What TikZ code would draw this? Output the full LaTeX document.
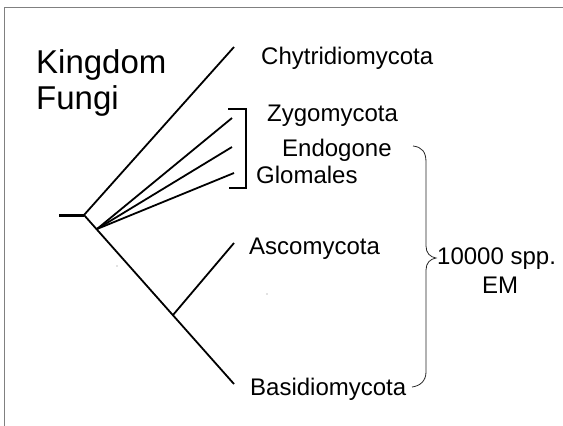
\documentclass[tikz,border=0pt]{standalone}
\usepackage{fontspec}
\setmainfont{Liberation Sans}
\begin{document}
\begin{tikzpicture}[x=1pt,y=-1pt,
  branch/.style={line width=1.8pt,line cap=butt},
  stub/.style={line width=3pt},
  bracketline/.style={line width=1.4pt},
  braceline/.style={line width=0.8pt,draw=black!85},
  taxon/.style={anchor=base west,inner sep=0pt,font=\fontsize{24}{28}\selectfont},
  titletext/.style={anchor=base west,inner sep=0pt,font=\fontsize{33}{38}\selectfont}]
\useasboundingbox (0,0) rectangle (563,426);
% frame
\draw[gray,line width=1pt] (563,7) -- (4,7) -- (4,426);
% title
\node[titletext] (kingdom) at (36,73) {Kingdom};
\node[titletext] (fungi) at (36,109) {Fungi};
% tree points
\coordinate (s) at (59,215);
\coordinate (r) at (84,215);
\coordinate (chy) at (234,47);
\coordinate (z) at (97,229);
\coordinate (z1) at (232,118);
\coordinate (z2) at (232,147);
\coordinate (z3) at (234,173);
\coordinate (a) at (173,315);
\coordinate (asc) at (234,243);
\coordinate (bas) at (234,384);
% tree
\draw[stub] (s) -- (r);
\draw[branch] (r) -- (chy);
\draw[branch] (r) -- (bas);
\draw[branch] (z) -- (z1);
\draw[branch] (z) -- (z2);
\draw[branch] (z) -- (z3);
\draw[branch] (a) -- (asc);
% square bracket
\coordinate (b1) at (228,109);
\coordinate (b2) at (246,109);
\coordinate (b3) at (246,188);
\coordinate (b4) at (229,188);
\draw[bracketline] (b1) -- (b2) -- (b3) -- (b4);
% labels
\node[taxon] (chyL) at (261,64) {Chytridiomycota};
\node[taxon] (zygL) at (267,121) {Zygomycota};
\node[taxon] (endL) at (282,156) {Endogone};
\node[taxon] (gloL) at (256,183) {Glomales};
\node[taxon] (ascL) at (249,254) {Ascomycota};
\node[taxon] (basL) at (250,395) {Basidiomycota};
\node[taxon] (sppL) at (437,264) {10000 spp.};
\node[taxon] (emL) at (482,293) {EM};
% curly brace
\coordinate (c1) at (413,146);
\coordinate (c2) at (436,258);
\coordinate (c3) at (412,387);
\draw[braceline] (c1) .. controls (422,147) and (426,152) .. (426,162)
  -- (426,246) .. controls (426,253) and (430,257) .. (c2)
  .. controls (430,259) and (426,263) .. (426,270)
  -- (426,372) .. controls (426,381) and (420,386) .. (c3);
% specks
\fill[gray] (117,266) circle (0.6);
\fill[gray] (267,294) circle (0.6);
\end{tikzpicture}
\end{document}
